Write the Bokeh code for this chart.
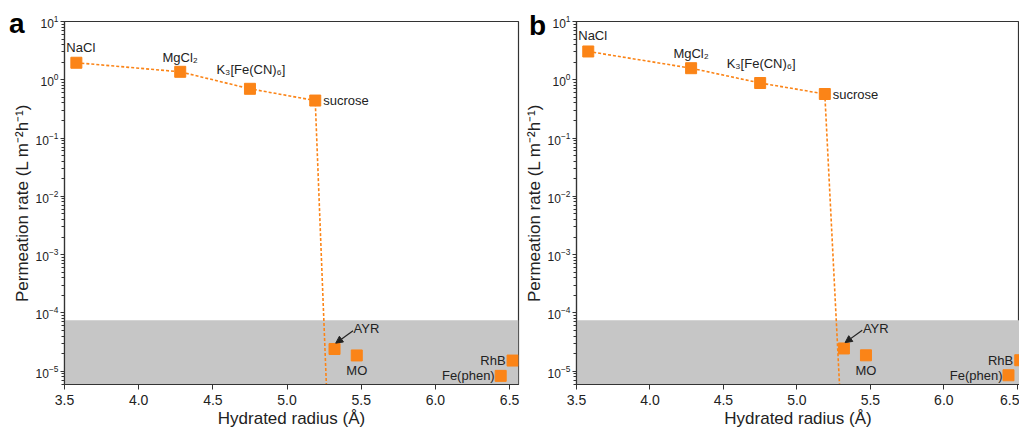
from bokeh.plotting import figure
from bokeh.models import (BoxAnnotation, Arrow, NormalHead, ColumnDataSource,
                          FixedTicker, Range1d, Div)
from bokeh.layouts import row
from bokeh.embed import file_html
from bokeh.resources import INLINE
from bokeh.core.properties import value

# ---- data ----
names = ["NaCl", "MgCl\u2082", "K\u2083[Fe(CN)\u2086]", "sucrose", "AYR", "MO", "RhB", "Fe(phen)"]
radius = [3.58, 4.28, 4.75, 5.19, 5.32, 5.47, 6.52, 6.44]
rate_a = [1.96, 1.37, 0.70, 0.44, 2.4e-5, 1.86e-5, 1.52e-5, 8.3e-6]
rate_b = [3.06, 1.58, 0.88, 0.57, 2.45e-5, 1.87e-5, 1.54e-5, 8.5e-6]
drop_end_a = (5.265, 5.9e-6)
drop_end_b = (5.29, 5.9e-6)
cutoff = 7.5e-5
x_ticks = [3.5, 4.0, 4.5, 5.0, 5.5, 6.0, 6.5]
y_ticks = [1e-5, 1e-4, 1e-3, 1e-2, 1e-1, 1e0, 1e1]
panel_letters = ["a", "b"]

# label styling (anchor, x_offset, y_offset) per point
label_style = [("bottom_left", -10, -8), ("bottom_center", 0, -7), ("bottom_center", 1, -12),
               ("center_left", 8, 0), ("center_left", 19, -20), ("top_center", 0, 8),
               ("center_right", -7, 0), ("center_right", -6, 0)]

ORANGE = "#fb8417"
FONT = "Liberation Sans"


def make_panel(rates, drop_end, x_end, border_left, frame_w, border_right):
    p = figure(frame_width=frame_w, frame_height=363, y_axis_type="log",
               x_range=Range1d(3.5, x_end), y_range=Range1d(5.9e-6, 10),
               output_backend="svg", toolbar_location=None,
               min_border_left=border_left, min_border_right=border_right,
               min_border_top=21, min_border_bottom=46)
    p.xgrid.visible = False
    p.ygrid.visible = False
    p.outline_line_color = "#333333"
    p.outline_line_width = 1.2
    p.background_fill_color = "white"

    p.add_layout(BoxAnnotation(top=cutoff, fill_color="#c6c6c6", fill_alpha=1.0,
                               line_color=None, level="underlay"))

    lx = radius[:4] + [drop_end[0]]
    ly = rates[:4] + [drop_end[1]]
    p.line(lx, ly, line_color=ORANGE, line_width=1.6, line_dash="3 2")

    src = ColumnDataSource(dict(x=radius, y=rates, t=names))
    p.scatter("x", "y", source=src, marker="square", size=11, fill_color=ORANGE,
              line_color=ORANGE)

    for i, (nm, st) in enumerate(zip(names, label_style)):
        anchor, xo, yo = st
        p.text(x=[radius[i]], y=[rates[i]], text=[nm], anchor=anchor, x_offset=xo, y_offset=yo,
               text_font=value(FONT), text_font_size="13px", text_color="#222222")

    # arrow pointing to AYR
    ia = names.index("AYR")
    p.add_layout(Arrow(end=NormalHead(size=7, fill_color="#222222", line_color="#222222"),
                       x_start=radius[ia] + 0.125, y_start=rates[ia] * 2.05,
                       x_end=radius[ia] + 0.008, y_end=rates[ia] * 1.26,
                       line_color="#222222", line_width=1.2))

    ax = p.xaxis[0]
    ax.ticker = FixedTicker(ticks=x_ticks)
    ax.major_label_overrides = {t: f"{t:.1f}" for t in x_ticks}
    ax.axis_label = "Hydrated radius (\u00c5)"
    ay = p.yaxis[0]
    minor = [m * 10.0 ** e for e in range(-6, 1) for m in range(2, 10)]
    ay.ticker = FixedTicker(ticks=y_ticks, minor_ticks=minor)
    ay.axis_label = "Permeation rate (L m\u207b\u00b2h\u207b\u00b9)"
    for a in (ax, ay):
        a.axis_line_color = "#333333"
        a.axis_line_width = 1.2
        a.major_tick_line_color = "#333333"
        a.minor_tick_line_color = "#333333"
        a.major_tick_in = 0
        a.minor_tick_in = 0
        a.minor_tick_out = 3
        a.major_label_text_font = FONT
        a.major_label_text_color = "#222222"
        a.axis_label_text_font = FONT
        a.axis_label_text_font_style = "normal"
        a.axis_label_text_color = "#222222"
    ax.major_tick_out = 5
    ax.major_label_standoff = 5
    ax.axis_label_standoff = 1
    ax.axis_label_text_font_size = "17px"
    ax.major_label_text_font_size = "14px"
    ax.minor_tick_line_color = None
    ay.major_tick_out = 4
    ay.major_label_standoff = 2
    ay.axis_label_standoff = 1
    ay.axis_label_text_font_size = "17px"
    ay.major_label_text_font_size = "12px"
    return p


def letter_div(letter, left, top):
    return Div(text=letter, styles={
        "position": "absolute", "left": f"{left}px", "top": f"{top}px",
        "font-family": "Liberation Sans", "font-size": "28px", "font-weight": "bold",
        "line-height": "28px", "color": "black", "z-index": "10", "margin": "0",
        "padding": "0"})


pa = make_panel(rate_a, drop_end_a, 6.56, 64, 454, 3)
pb = make_panel(rate_b, drop_end_b, 6.515, 54, 443, 0)
layout = row(pa, pb, letter_div(panel_letters[0], 9, 10), letter_div(panel_letters[1], 529, 12))
open("out.html", "w").write(file_html(layout, INLINE))
